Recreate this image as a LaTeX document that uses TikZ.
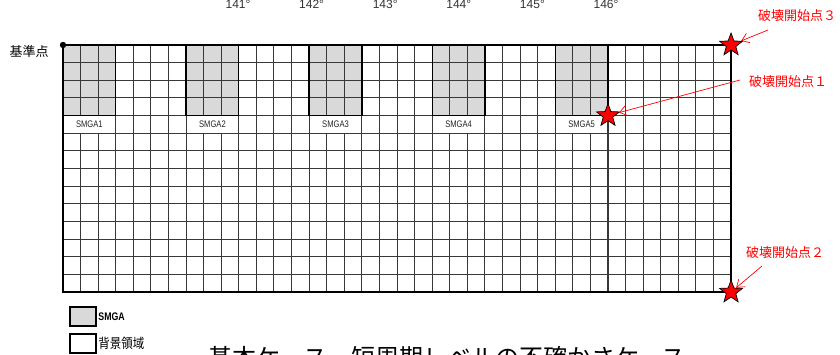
\documentclass[tikz,border=0pt]{standalone}
\usepackage{fontspec}
\setmainfont{Liberation Sans}
\newfontfamily\jp{Noto Sans CJK JP}
\newfontfamily\jpnarrow[FakeStretch=0.85]{Noto Sans CJK JP}
\newfontfamily\narrow[FakeStretch=0.8]{Liberation Sans}
\usetikzlibrary{shapes.geometric,arrows.meta}

\definecolor{smgagray}{gray}{0.85}
\definecolor{gridline}{gray}{0.22}

\tikzset{
  cellline/.style={gridline, line width=1.05pt},
  smgaedge/.style={draw=black, line width=1.3pt},
  smgalabel/.style={font=\narrow\fontsize{9.5}{9.5}\selectfont, text=black!85, inner sep=0pt},
  hypo/.style={star, star points=5, star point ratio=2.4, minimum size=24pt,
    inner sep=0pt, fill=red, draw=black, line width=0.7pt},
  hypolabel/.style={text=red, font=\jp\fontsize{13}{13}\selectfont, inner sep=0pt},
  hypoarrow/.style={red, line width=0.7pt, -{Straight Barb[length=7pt,width=10pt]}},
  degree/.style={font=\fontsize{12}{12}\selectfont, text=black!80, inner sep=0pt},
  keybox/.style={draw=black, line width=1.4pt, minimum width=26pt, minimum height=19pt, inner sep=0pt},
}

\begin{document}
\begin{tikzpicture}[x=1pt, y=-1pt]
  \useasboundingbox (0,0) rectangle (840,354);

  % Cell size
  \def\cw{17.58}
  \def\ch{17.65}

  % Reference point
  \coordinate (O) at (63,45);

  % SMGA areas (3 x 4 cells)
  \foreach \k in {1,...,5}
    \fill[smgagray] ({63+7*(\k-1)*\cw},45) rectangle ++(3*\cw,4*\ch);

  % Grid 38 x 14
  \foreach \i in {0,...,38}
    \draw[cellline] ({63+\i*\cw},45) -- ++(0,14*\ch);
  \foreach \j in {0,...,14}
    \draw[cellline] (63,{45+\j*\ch}) -- ++(38*\cw,0);

  % Merged label cells and SMGA outlines
  \foreach \k in {1,...,5} {
    \fill[white] ({63+7*(\k-1)*\cw+0.7},{45+4*\ch+0.7}) rectangle ++({3*\cw-1.4},{\ch-1.4});
    \draw[smgaedge] ({63+7*(\k-1)*\cw},45) rectangle ++(3*\cw,4*\ch);
    \node[smgalabel] (smga\k) at ({63+(7*(\k-1)+1.5)*\cw},{45+4.5*\ch}) {SMGA\k};
  }

  % Outer frame
  \draw[black, line width=1.4pt] (O) rectangle ++(38*\cw,14*\ch);

  % Reference point label
  \fill (O) circle (3.2pt);
  \node[font=\jp\fontsize{13}{13}\selectfont, inner sep=0pt] (ref) at (29,52) {基準点};

  % Longitudes
  \foreach \d [count=\n from 0] in {141,...,146}
    \node[degree, anchor=base] (lon\d) at ({238+73.6*\n},8) {\d°};

  % Rupture starting points
  \node[hypo] (s1) at ({63+31*\cw},{45+4*\ch}) {};
  \node[hypo] (s2) at ({63+38*\cw},{45+14*\ch}) {};
  \node[hypo] (s3) at ({63+38*\cw},45) {};

  \node[hypolabel] (l3) at (797,16) {破壊開始点３};
  \node[hypolabel] (l1) at (788,82) {破壊開始点１};
  \node[hypolabel] (l2) at (785,253) {破壊開始点２};

  \coordinate (t3) at (768,30);
  \coordinate (t1) at (740,80);
  \coordinate (t2) at (762,266);
  \draw[hypoarrow] (t3) -- (s3);
  \draw[hypoarrow] (t1) -- (s1);
  \draw[hypoarrow] (t2) -- (s2);

  % Legend
  \node[keybox, fill=smgagray] (keysmga) at (83,316.5) {};
  \node[anchor=west, inner sep=1.5pt, font=\narrow\bfseries\fontsize{11}{11}\selectfont] (keysmgatext) at (keysmga.east) {SMGA};
  \node[keybox, fill=white] (keybg) at (83,343.5) {};
  \node[anchor=west, inner sep=1.5pt, font=\jpnarrow\fontsize{13.5}{13.5}\selectfont] (keybgtext) at (keybg.east) {背景領域};

  % Case title (cut by the frame)
  \node[font=\jp\fontsize{24}{24}\selectfont, anchor=base west, inner sep=0pt] (title) at (208,366) {基本ケース　短周期レベルの不確かさケース};

\end{tikzpicture}
\end{document}
